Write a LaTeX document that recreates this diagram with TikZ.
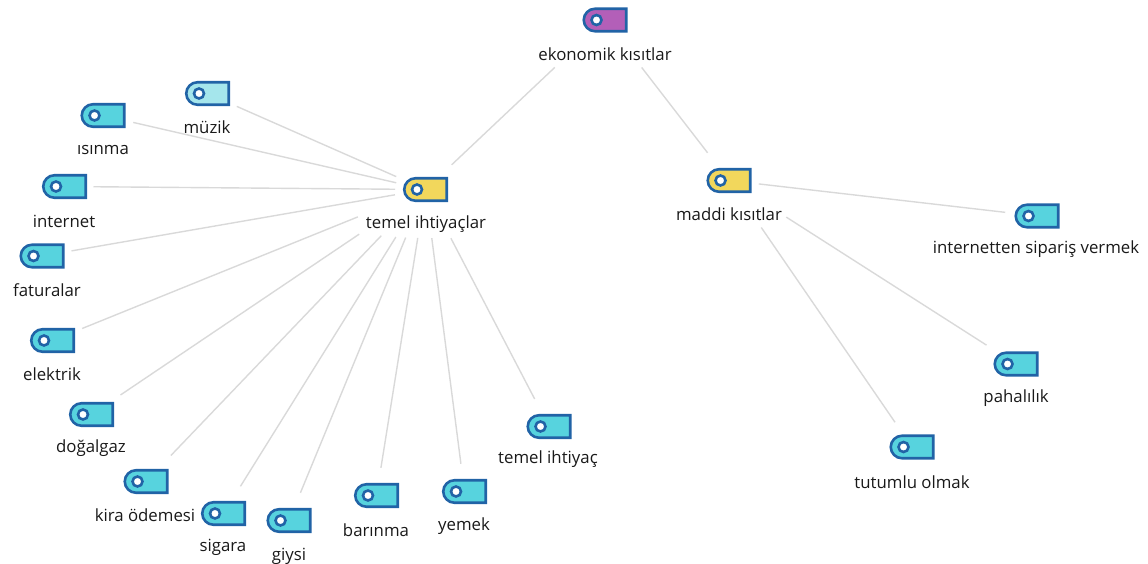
\documentclass[tikz,border=0pt]{standalone}
\usepackage{fontspec}
\setmainfont{Open Sans}
\usetikzlibrary{shapes.misc}
\definecolor{edgeblue}{HTML}{2163A6}
\definecolor{tagcyan}{HTML}{57D3DE}
\definecolor{taglight}{HTML}{A5E6EC}
\definecolor{tagyellow}{HTML}{F2D75C}
\definecolor{tagpurple}{HTML}{B35FB8}
\definecolor{linkgrey}{HTML}{D9D9D9}
\tikzset{
  tagbox/.style={rounded rectangle, rounded rectangle right arc=none, draw=edgeblue, line width=2.6pt,
    minimum width=42.5pt, minimum height=22.5pt, inner sep=0pt, outer sep=0pt},
  taghole/.style={circle, draw=edgeblue, fill=white, line width=2.6pt, minimum size=10pt, inner sep=0pt},
  taglabel/.style={inner sep=0pt, font=\fontsize{16.8}{20}\selectfont, text=black!90},
  linkline/.style={draw=linkgrey, line width=1.4pt},
}
\newcommand{\tagitem}[7]{%
  \node[tagbox, fill=#4] (#1) at (#2,#3) {};
  \node[taghole] (#1-hole) at (#2-8.5,#3) {};
  \node[taglabel] (#1-label) at (#6,#7+1) {#5};
}
\newcommand{\linkup}[4]{\draw[linkline, shorten <=#3pt, shorten >=#4pt] (#1.center) -- (#2.center);}
\begin{document}
\begin{tikzpicture}[x=1pt,y=-1pt]
\useasboundingbox (0,0) rectangle (1148,564);
\tagitem{eko}{605}{20}{tagpurple}{ekonomik kısıtlar}{605}{53}
\tagitem{hub}{425.5}{189.5}{tagyellow}{temel ihtiyaçlar}{426}{223}
\tagitem{mad}{729}{180.5}{tagyellow}{maddi kısıtlar}{729}{213}
\tagitem{muz}{207.5}{93.5}{taglight}{müzik}{207}{126}
\tagitem{isi}{103}{115.5}{tagcyan}{ısınma}{103}{149}
\tagitem{int}{64.5}{186.5}{tagcyan}{internet}{64}{220}
\tagitem{fat}{42}{256}{tagcyan}{faturalar}{47}{289}
\tagitem{ele}{52.5}{340.5}{tagcyan}{elektrik}{52}{373}
\tagitem{dog}{91.5}{414.5}{tagcyan}{doğalgaz}{91}{447}
\tagitem{kir}{146}{481.5}{tagcyan}{kira ödemesi}{145}{514}
\tagitem{sig}{223.5}{513.5}{tagcyan}{sigara}{223}{546}
\tagitem{giy}{289}{520.5}{tagcyan}{giysi}{289}{555}
\tagitem{bar}{376.5}{495.5}{tagcyan}{barınma}{376}{529}
\tagitem{yem}{464.5}{491.5}{tagcyan}{yemek}{464}{525}
\tagitem{tih}{549}{426.5}{tagcyan}{temel ihtiyaç}{548}{458}
\tagitem{sip}{1037}{216}{tagcyan}{internetten sipariş vermek}{1036}{248}
\tagitem{pah}{1016}{364}{tagcyan}{pahalılık}{1016}{397}
\tagitem{tut}{912}{447}{tagcyan}{tutumlu olmak}{912}{481}
\linkup{eko}{hub}{69}{36}
\linkup{eko}{mad}{60}{35}
\linkup{hub}{muz}{32}{32}
\linkup{hub}{isi}{30}{31}
\linkup{hub}{int}{30.5}{29}
\linkup{hub}{fat}{31}{30}
\linkup{hub}{ele}{73}{32}
\linkup{hub}{dog}{80}{35}
\linkup{hub}{kir}{64}{36}
\linkup{hub}{sig}{56}{32}
\linkup{hub}{giy}{52}{30}
\linkup{hub}{bar}{49}{28}
\linkup{hub}{yem}{49}{28}
\linkup{hub}{tih}{55}{31}
\linkup{mad}{sip}{30}{32}
\linkup{mad}{pah}{68}{35}
\linkup{mad}{tut}{57}{30}
\end{tikzpicture}
\end{document}
